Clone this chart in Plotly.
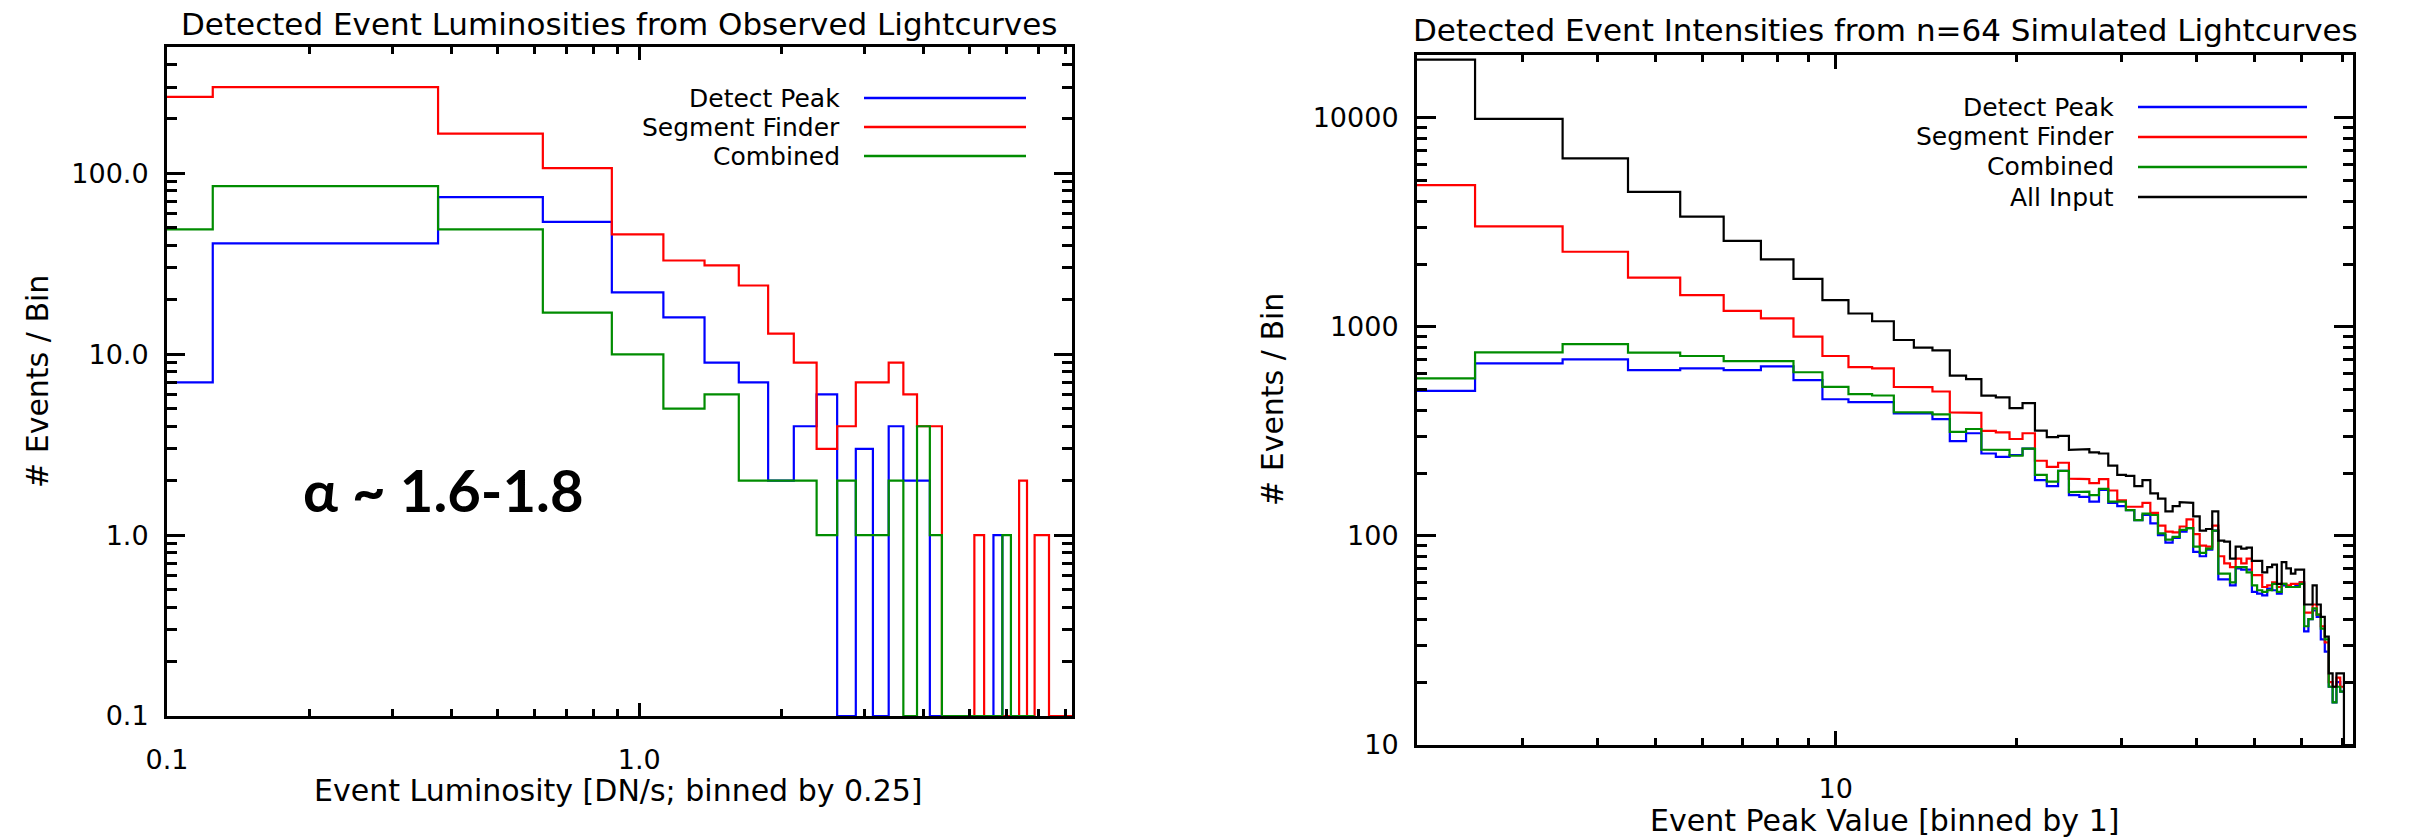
import numpy as np
import plotly.graph_objects as go

# ---------------- Left panel: observed lightcurves ----------------
lum_bin_width = 0.25
lum_centers = [0.25 * k for k in range(34)]
lum_detect_peak = [7, 41, 74, 54, 22, 16, 9, 7, 2, 4, 6, 0, 3, 0, 4, 2, 2, 0, 0, 0,
                   0, 0, 0, 1, 0, 0, 0, 0]
lum_segment_finder = [265, 300, 166, 107, 46, 33, 31, 24, 13, 9, 3, 4, 7, 7, 9, 6, 4, 4,
                      0, 0, 0, 1, 0, 0, 0, 0, 2, 0, 1, 1, 0, 0, 0, 0]
lum_combined = [49, 85, 49, 17, 10, 5, 6, 2, 2, 2, 1, 2, 1, 1, 2, 0, 4, 1, 0, 0,
                0, 0, 0, 0, 1, 0, 0, 0]

# ---------------- Right panel: n=64 simulated lightcurves ----------------
peak_bin_width = 1
peak_centers = list(range(2, 74))
peak_all_input = [19000, 9900, 6400, 4430, 3370, 2580, 2105, 1700, 1345, 1160,
                  1065, 866, 797, 772, 585, 563, 469, 460, 409, 432,
                  319, 297, 301, 258, 260, 251, 248, 217, 196, 194,
                  173, 185, 160, 151, 131, 139, 145, 144, 124, 106,
                  108, 131, 95, 94, 78, 89, 87, 88, 76, 76,
                  67, 71, 73, 59, 75, 70, 66, 69, 69, 47,
                  47, 58, 47, 41, 33, 22, 19, 22, 22, 0, 0, 0]
peak_segment_finder = [4770, 3030, 2290, 1720, 1420, 1195, 1099, 898, 726, 642,
                       634, 517, 515, 491, 390, 388, 318, 313, 291, 310,
                       229, 214, 224, 188, 187, 179, 187, 165, 148, 138,
                       138, 144, 129, 112, 105, 104, 111, 120, 102, 90,
                       89, 112, 80, 74, 71, 78, 74, 78, 65, 65,
                       57, 58, 60, 57, 59, 58, 59, 59, 60, 43,
                       43, 47, 42, 37, 31, 20, 19, 21, 19]
peak_combined = [568, 756, 828, 754, 726, 687, 687, 607, 517, 477,
                 470, 391, 390, 382, 315, 325, 259, 258, 242, 262,
                 196, 182, 205, 162, 163, 157, 168, 146, 146, 133,
                 119, 128, 126, 103, 96, 99, 107, 109, 89, 83,
                 87, 106, 66, 66, 60, 71, 71, 67, 58, 55,
                 54, 55, 59, 54, 59, 57, 57, 57, 59, 37,
                 40, 45, 42, 36, 32, 19, 16, 19, 18]
peak_detect_peak = [495, 670, 700, 622, 634, 622, 648, 557, 451, 437,
                    437, 386, 386, 362, 284, 310, 248, 239, 244, 262,
                    185, 173, 205, 157, 154, 146, 166, 144, 139, 133,
                    119, 126, 115, 101, 93, 98, 105, 109, 84, 80,
                    86, 106, 62, 62, 58, 70, 69, 69, 54, 53,
                    52, 56, 55, 53, 58, 57, 57, 58, 60, 35,
                    40, 44, 41, 32, 28, 19, 16, 20, 18]

left_names = ["Detect Peak", "Segment Finder", "Combined"]
right_names = ["Detect Peak", "Segment Finder", "Combined", "All Input"]
colors = {"Detect Peak": "#0000ff", "Segment Finder": "#ff0000",
          "Combined": "#008c00", "All Input": "#000000"}

LX = (0.1, 8.25)
LY = (0.1, 500)
RX = (2, 73)
RY = (10, 20000)

W, H = 2410, 840
FONT = "DejaVu Sans"


def steps(centers, counts, width, xr, floor):
    """Histogram-mode (IDL psym=10) step outline built from bin centers/counts."""
    n = len(counts)
    c = np.asarray(centers[:n], float)
    v = np.maximum(np.asarray(counts, float), floor)
    left = np.clip(c - width / 2, xr[0], xr[1])
    right = np.clip(c + width / 2, xr[0], xr[1])
    xs = np.column_stack([left, right]).ravel()
    ys = np.repeat(v, 2)
    return xs, ys


fig = go.Figure()

left_series = {"Detect Peak": lum_detect_peak, "Segment Finder": lum_segment_finder,
               "Combined": lum_combined}
for name in left_names:
    xs, ys = steps(lum_centers, left_series[name], lum_bin_width, LX, LY[0])
    fig.add_trace(go.Scatter(x=xs, y=ys, mode="lines", name=name,
                             line=dict(color=colors[name], width=2.2),
                             xaxis="x", yaxis="y", showlegend=False))

right_series = {"Detect Peak": peak_detect_peak, "Segment Finder": peak_segment_finder,
                "Combined": peak_combined, "All Input": peak_all_input}
for name in right_names:
    xs, ys = steps(peak_centers, right_series[name], peak_bin_width, RX, RY[0])
    fig.add_trace(go.Scatter(x=xs, y=ys, mode="lines", name=name,
                             line=dict(color=colors[name], width=2.2),
                             xaxis="x2", yaxis="y2", showlegend=False))


def log_minor(lo, hi):
    vals = []
    for e in range(int(np.floor(np.log10(lo))), int(np.ceil(np.log10(hi))) + 1):
        for m in range(2, 10):
            v = m * 10.0 ** e
            if lo < v < hi:
                vals.append(v)
    return vals


def axis(rng, domain, tickvals, ticktext, ticklen, minorlen, anchor, standoff):
    return dict(
        type="log", range=[np.log10(rng[0]), np.log10(rng[1])], domain=domain,
        anchor=anchor, automargin=False, showline=True, linecolor="black", linewidth=3,
        mirror="ticks", showgrid=False, zeroline=False,
        ticks="inside", tickmode="array", tickvals=tickvals, ticktext=ticktext,
        ticklen=ticklen, tickwidth=2.5, tickcolor="black",
        ticklabelstandoff=standoff,
        tickfont=dict(family=FONT, size=27, color="black"),
        minor=dict(ticks="inside", tickmode="array", tickvals=log_minor(*rng),
                   ticklen=minorlen, tickwidth=2.5, tickcolor="black", showgrid=False),
    )


def px(x):
    return x / W


def py(y):
    return 1 - y / H


fig.update_layout(
    width=W, height=H, margin=dict(l=0, r=0, t=0, b=0, autoexpand=False),
    paper_bgcolor="white", plot_bgcolor="white",
    xaxis=axis(LX, [px(167), px(1072)], [0.1, 1], ["0.1", "1.0"], 13, 7, "y", 18),
    yaxis=axis(LY, [py(716), py(47)], [0.1, 1, 10, 100],
               ["0.1", "1.0", "10.0", "100.0"], 18, 10, "x", 10),
    xaxis2=axis(RX, [px(1417), px(2353)], [10], ["10"], 14, 7, "y2", 18),
    yaxis2=axis(RY, [py(745), py(55)], [10, 100, 1000, 10000],
                ["10", "100", "1000", "10000"], 19, 10, "x2", 10),
)

ann = []
shapes = []


def text(x, y, s, size=28, xanchor="center", family=FONT, angle=0, weight="normal"):
    ann.append(dict(x=px(x), y=py(y), xref="paper", yref="paper", text=s,
                    showarrow=False, xanchor=xanchor, yanchor="middle",
                    textangle=angle,
                    font=dict(family=family, size=size, color="black", weight=weight)))


# titles
text(619, 24, "Detected Event Luminosities from Observed Lightcurves", 31)
text(1885, 30, "Detected Event Intensities from n=64 Simulated Lightcurves", 31)
# axis titles
text(618, 790, "Event Luminosity [DN/s; binned by 0.25]", 30)
text(1884, 820, "Event Peak Value [binned by 1]", 30)
text(38, 382, "# Events / Bin", 30, angle=-90)
text(1272, 400, "# Events / Bin", 30, angle=-90)
# alpha annotation
text(443, 489, "α ~ 1.6-1.8", 58, family="Lato", weight="bold")

# legends (text left of a line sample, IDL style)
for i, name in enumerate(left_names):
    yy = 98 + 29 * i
    text(842, yy, name, 25, xanchor="right")
    shapes.append(dict(type="line", xref="paper", yref="paper",
                       x0=px(864), x1=px(1026), y0=py(yy), y1=py(yy),
                       line=dict(color=colors[name], width=2.5)))
for i, name in enumerate(right_names):
    yy = 107 + 30 * i
    text(2116, yy, name, 25, xanchor="right")
    shapes.append(dict(type="line", xref="paper", yref="paper",
                       x0=px(2138), x1=px(2307), y0=py(yy), y1=py(yy),
                       line=dict(color=colors[name], width=2.5)))

fig.update_layout(annotations=ann, shapes=shapes)
fig.write_html(
    "out.html",
    config={"displayModeBar": False},
    post_script="document.body.style.margin='0';document.body.style.padding='0';"
                "document.body.style.overflow='hidden';",
)
